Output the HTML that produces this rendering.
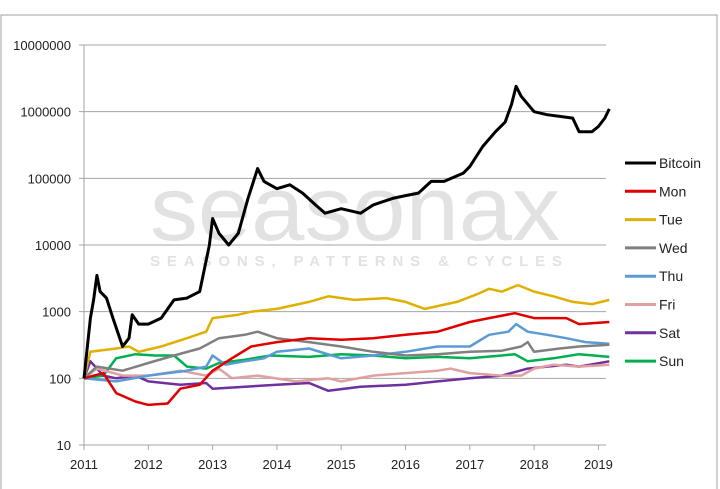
<!DOCTYPE html>
<html><head><meta charset="utf-8"><style>
body{margin:0;background:#fff;font-family:"Liberation Sans",Arial,sans-serif}
#wrap{position:relative;width:720px;height:489px;overflow:hidden}
</style></head><body>
<div id="wrap">
<svg id="c" width="720" height="489"></svg>
</div>
<script>
const yTicks=[10,100,1000,10000,100000,1000000,10000000];
const xTicks=[2011,2012,2013,2014,2015,2016,2017,2018,2019];
const seriesNames=["Bitcoin","Mon","Tue","Wed","Thu","Fri","Sat","Sun"];
const seriesColors=["#000000","#e00000","#e0b000","#808080","#5b9bd5","#e0a0a0","#7030a0","#00b050"];
const btcT=[2011,2011.1,2011.15,2011.2,2011.25,2011.35,2011.45,2011.6,2011.7,2011.75,2011.85,2012,2012.2,2012.4,2012.6,2012.8,2012.95,2013,2013.1,2013.25,2013.4,2013.55,2013.7,2013.8,2014,2014.2,2014.4,2014.6,2014.75,2015,2015.3,2015.5,2015.8,2016,2016.2,2016.4,2016.6,2016.9,2017,2017.2,2017.4,2017.55,2017.65,2017.72,2017.8,2017.9,2018,2018.2,2018.4,2018.6,2018.7,2018.9,2019,2019.1,2019.17];
const btcV=[100,800,1500,3500,2000,1600,800,300,400,900,650,650,800,1500,1600,2000,10000,25000,15000,10000,15000,50000,140000,90000,70000,80000,60000,40000,30000,35000,30000,40000,50000,55000,60000,90000,90000,120000,150000,300000,500000,700000,1300000,2400000,1700000,1300000,1000000,900000,850000,800000,500000,500000,600000,800000,1100000];
const monT=[2011,2011.3,2011.5,2011.8,2012,2012.3,2012.5,2012.8,2013,2013.3,2013.6,2014,2014.5,2015,2015.5,2016,2016.5,2017,2017.3,2017.7,2018,2018.5,2018.7,2019.17];
const monV=[100,120,60,45,40,42,70,80,130,200,300,350,400,380,400,450,500,700,800,950,800,800,650,700];
const tueT=[2011,2011.1,2011.5,2011.7,2011.85,2012.2,2012.6,2012.9,2013,2013.4,2013.6,2014,2014.5,2014.8,2015.2,2015.7,2016,2016.3,2016.8,2017.1,2017.3,2017.5,2017.75,2018,2018.3,2018.6,2018.9,2019.17];
const tueV=[100,250,280,300,250,300,400,500,800,900,1000,1100,1400,1700,1500,1600,1400,1100,1400,1800,2200,2000,2500,2000,1700,1400,1300,1500];
const wedT=[2011,2011.2,2011.6,2012,2012.4,2012.8,2013.1,2013.5,2013.7,2014,2014.5,2015,2015.5,2016,2016.5,2017,2017.5,2017.8,2017.9,2018,2018.4,2018.7,2019.17];
const wedV=[100,150,130,170,220,280,400,450,500,400,350,300,250,220,230,250,260,300,350,250,280,300,320];
const thuT=[2011,2011.5,2012,2012.6,2012.9,2013,2013.2,2013.5,2013.8,2014,2014.5,2015,2015.5,2016,2016.5,2017,2017.3,2017.6,2017.72,2017.9,2018.2,2018.5,2018.8,2019.17];
const thuV=[100,90,110,130,150,220,160,180,200,250,280,200,220,250,300,300,450,500,650,500,450,400,350,330];
const friT=[2011,2011.2,2011.6,2012,2012.5,2012.9,2013.1,2013.3,2013.7,2014.3,2014.8,2015,2015.5,2016,2016.5,2016.7,2017,2017.5,2017.8,2018,2018.3,2018.7,2019.17];
const friV=[100,140,110,110,130,110,140,100,110,90,100,90,110,120,130,140,120,110,110,140,160,150,160];
const satT=[2011,2011.1,2011.3,2011.5,2011.8,2012,2012.5,2012.9,2013,2013.5,2014,2014.5,2014.8,2015.3,2016,2016.5,2017,2017.5,2017.9,2018.2,2018.5,2018.7,2019.17];
const satV=[100,180,110,100,110,90,80,85,70,75,80,85,65,75,80,90,100,110,140,150,160,150,180];
const sunT=[2011,2011.3,2011.5,2011.8,2012.1,2012.4,2012.6,2012.9,2013.1,2013.5,2013.9,2014.5,2015,2015.5,2016,2016.5,2017,2017.5,2017.7,2017.9,2018.3,2018.7,2019.17];
const sunV=[100,110,200,230,220,220,150,140,170,190,220,210,230,220,200,210,200,220,230,180,200,230,210];
const allT=[btcT,monT,tueT,wedT,thuT,friT,satT,sunT];
const allV=[btcV,monV,tueV,wedV,thuV,friV,satV,sunV];

const NS="http://www.w3.org/2000/svg";
const svg=document.getElementById('c');
const L=84,R=606,T=45,B=445;
const xS=t=>L+(t-2011)*64.3;
const yS=v=>B-(Math.log10(v)-1)*(B-T)/6;
function mk(tag,a){const e=document.createElementNS(NS,tag);for(const k in a)e.setAttribute(k,a[k]);svg.appendChild(e);return e;}
let e;
e=mk('rect',{x:1,y:15,width:716,height:480,fill:'none',stroke:'#a0a0a0'});


e=mk('text',{x:150,y:240,'font-size':92,fill:'#e2e2e2','font-family':'Liberation Sans, sans-serif',textLength:410,lengthAdjust:'spacingAndGlyphs'});
e.textContent='seasonax';


e=mk('text',{x:150,y:266,'font-size':15,fill:'#e2e2e2','font-weight':'bold',textLength:412,lengthAdjust:'spacing'});
e.textContent='SEASONS, PATTERNS & CYCLES';


yTicks.forEach(v=>{
 const y=yS(v);
 e=mk('line',{x1:L-5,x2:R,y1:y,y2:y,stroke:'#a6a6a6','stroke-width':1});
 
 
 e=mk('text',{x:71,y:y+5,'text-anchor':'end','font-size':13,fill:'#222'});
 e.textContent=String(v);
 
 
});
e=mk('line',{x1:L,x2:L,y1:T,y2:B,stroke:'#a6a6a6'});


xTicks.forEach(t=>{
 const x=xS(t);
 e=mk('line',{x1:x,x2:x,y1:B,y2:B+5,stroke:'#a6a6a6'});
 
 
 e=mk('text',{x:x,y:469,'text-anchor':'middle','font-size':13,fill:'#222'});
 e.textContent=String(t);
 
 
});
for(let s=allT.length-1;s>=0;s--){
 const d=allT[s].map((t,i)=>(i?'L':'M')+xS(t).toFixed(1)+' '+yS(allV[s][i]).toFixed(1)).join(' ');
 e=mk('path',{d:d,fill:'none',stroke:seriesColors[s],'stroke-width':s==0?3:2.5,'stroke-linejoin':'round'});
 
 
}
seriesNames.forEach((n,i)=>{
 const y=163+i*28.3;
 e=mk('line',{x1:625,x2:656,y1:y,y2:y,stroke:seriesColors[i],'stroke-width':3});
 
 
 e=mk('text',{x:659,y:y+5,'font-size':14,fill:'#222'});
 e.textContent=n;
 
 
});
</script>
</body></html>
